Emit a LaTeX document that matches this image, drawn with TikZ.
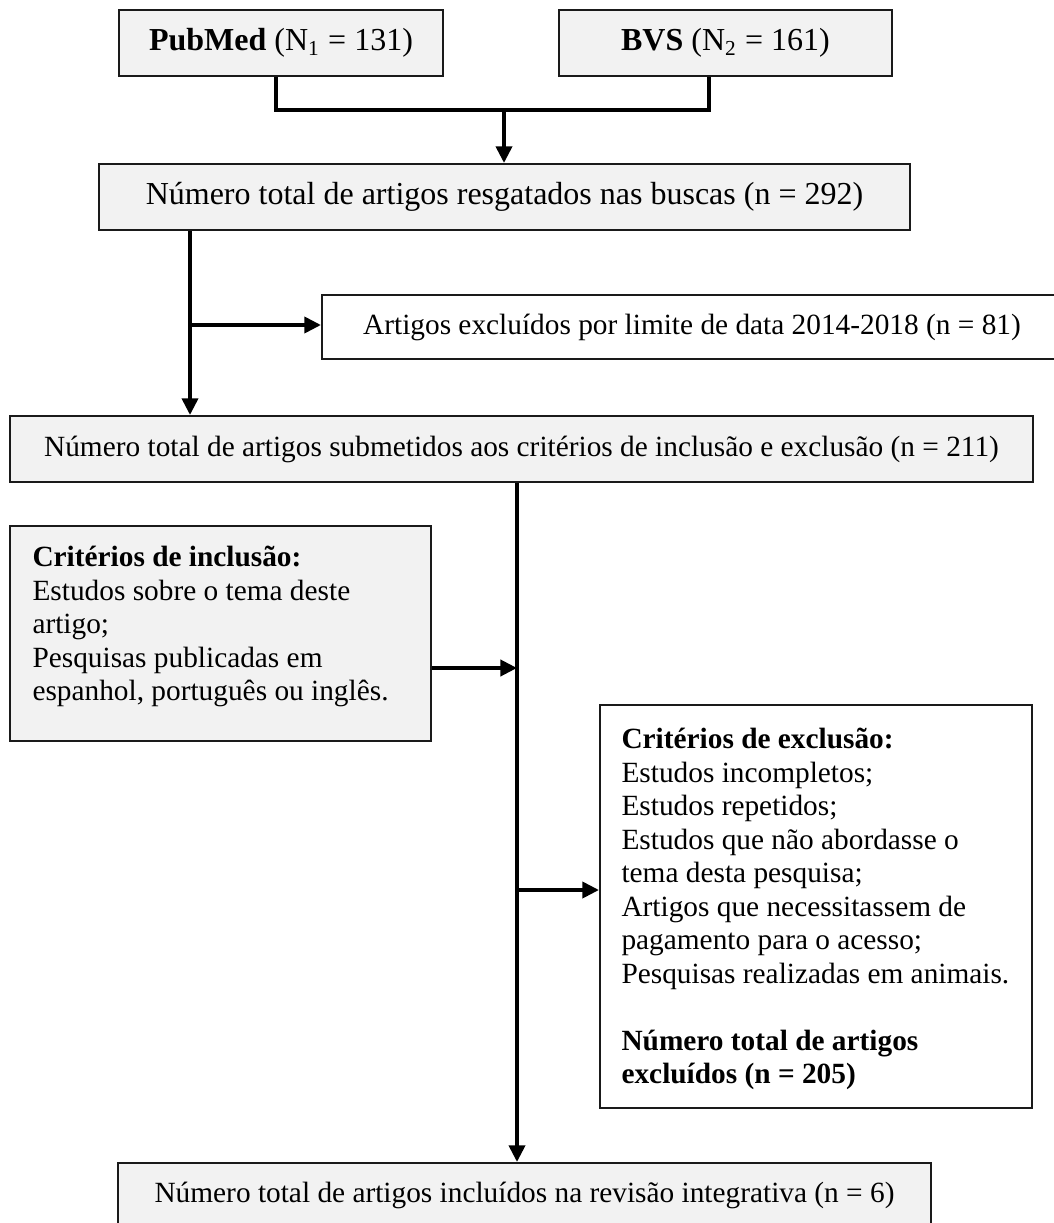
\documentclass[tikz,border=0pt]{standalone}
\usepackage{fontspec}
\setmainfont{Liberation Serif}
\usetikzlibrary{arrows.meta}
\definecolor{boxgray}{HTML}{F2F2F2}
\definecolor{boxline}{HTML}{1A1A1A}
\begin{document}
\begin{tikzpicture}[x=0.375pt,y=-0.375pt,
  box/.style={draw=boxline,line width=0.8pt,inner sep=0pt,rectangle},
  graybox/.style={box,fill=boxgray},
  whitebox/.style={box,fill=white},
  bigfont/.style={font=\fontsize{12}{13.8}\selectfont},
  smallfont/.style={font=\fontsize{11}{12.56}\selectfont},
  conn/.style={line width=1.35pt,draw=black},
  arr/.style={conn,-{Triangle[length=6.2pt,width=6pt]}},
  txt/.style={inner sep=0pt,align=left,anchor=north west,smallfont}
]
\useasboundingbox (0,0) rectangle (1053,1223);
\fill[white] (0,0) rectangle (1053,1223);

% boxes
\node[graybox,bigfont,minimum width=324*0.375pt,minimum height=66*0.375pt] (pub) at (281,43) {\textbf{PubMed} (N\textsubscript{1} = 131)};
\node[graybox,bigfont,minimum width=333*0.375pt,minimum height=66*0.375pt] (bvs) at (725.5,43) {\textbf{BVS} (N\textsubscript{2} = 161)};
\node[graybox,bigfont,minimum width=811*0.375pt,minimum height=66*0.375pt] (total) at (504.5,197) {Número total de artigos resgatados nas buscas (n = 292)};
\node[whitebox,smallfont,minimum width=740*0.375pt,minimum height=64*0.375pt] (e81) at (692,327) {Artigos excluídos por limite de data 2014-2018 (n = 81)};
\node[graybox,smallfont,minimum width=1023*0.375pt,minimum height=66*0.375pt] (n211) at (521.5,449) {Número total de artigos submetidos aos critérios de inclusão e exclusão (n = 211)};
\node[graybox,minimum width=421*0.375pt,minimum height=215*0.375pt] (incbox) at (220.5,633.5) {};
\node[txt] (inctext) at (32,546) {\textbf{Critérios de inclusão:}\\Estudos sobre o tema deste\\artigo;\\Pesquisas publicadas em\\espanhol, português ou inglês.};
\node[whitebox,minimum width=432*0.375pt,minimum height=403*0.375pt] (excbox) at (816,906.5) {};
\node[txt] (exctext) at (621,728) {\textbf{Critérios de exclusão:}\\Estudos incompletos;\\Estudos repetidos;\\Estudos que não abordasse o\\tema desta pesquisa;\\Artigos que necessitassem de\\pagamento para o acesso;\\Pesquisas realizadas em animais.\\[12.56pt]\textbf{Número total de artigos}\\\textbf{excluídos (n = 205)}};
\node[graybox,minimum width=813*0.375pt,minimum height=80*0.375pt] (final) at (524.5,1203) {};
\node[inner sep=0pt,smallfont] (finaltext) at (524.5,1195) {Número total de artigos incluídos na revisão integrativa (n = 6)};

% junction coordinates
\coordinate (j1) at (276,110);
\coordinate (j2) at (709,110);
\coordinate (j3) at (504,110);
\coordinate (c1) at (190,325);
\coordinate (v2) at (517,668);
\coordinate (v3) at (517,890);

% connectors
\draw[conn] (pub.south -| j1) -- (j1) -- (j2) -- (bvs.south -| j2);
\draw[arr] (j3) -- (total.north -| j3);
\draw[arr] (total.south -| c1) -- (n211.north -| c1);
\draw[arr] (c1) -- (c1 -| e81.west);
\draw[arr] (n211.south -| v2) -- (final.north -| v2);
\draw[arr] (incbox.east |- v2) -- (v2);
\draw[arr] (v3) -- (v3 -| excbox.west);
\end{tikzpicture}
\end{document}
